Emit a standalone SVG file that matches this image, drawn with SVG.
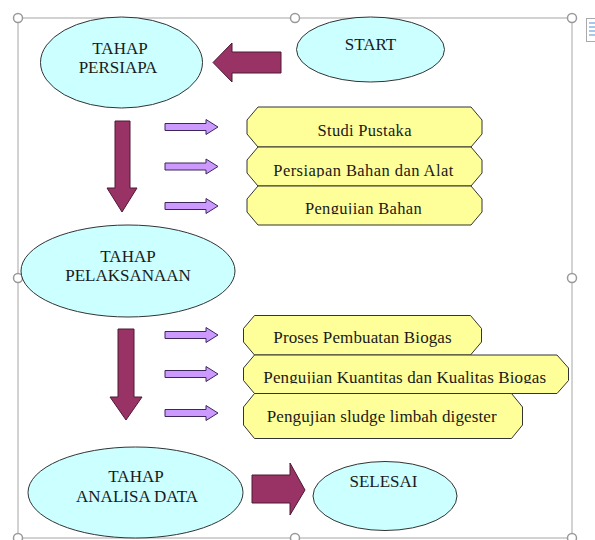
<svg xmlns="http://www.w3.org/2000/svg" width="595" height="540" viewBox="0 0 595 540">
<style>
.ell{fill:#ccffff;stroke:#333;stroke-width:1}
.box{fill:#ffff99;stroke:#333;stroke-width:1}
.big{fill:#993366;stroke:#4d1a33;stroke-width:1}
.sm{fill:#cc99ff;stroke:#3d2659;stroke-width:1}
.t{font-family:"Liberation Serif","Times New Roman",serif;fill:#1a1a1a;text-anchor:middle}
.e{font-size:17px}
.b1{font-size:16.5px}
.b2{font-size:17px}
.frame{fill:none;stroke:#a6a6a6;stroke-width:1}
.h{fill:#fff;stroke:#999;stroke-width:1.5}
</style>
<defs>
<path id="pa" d="M0,-3.5 H41 V-7.5 L53,0 L41,7.5 V3.5 H0 Z"/>
<clipPath id="c1" clipPathUnits="userSpaceOnUse"><rect x="240" y="150" width="250" height="27.5"/></clipPath>
<clipPath id="c2" clipPathUnits="userSpaceOnUse"><rect x="240" y="190" width="250" height="24.3"/></clipPath>
<clipPath id="c3" clipPathUnits="userSpaceOnUse"><rect x="240" y="358" width="335" height="25.6"/></clipPath>
</defs>
<g id="selection-frame">
<rect class="frame" x="18" y="18" width="554" height="520"/>
<circle class="h" cx="18" cy="18" r="4.5"/>
<circle class="h" cx="295" cy="18" r="4.5"/>
<circle class="h" cx="572" cy="18" r="4.5"/>
<circle class="h" cx="18" cy="278" r="4.5"/>
<circle class="h" cx="572" cy="278" r="4.5"/>
<circle class="h" cx="18" cy="538" r="4.5"/>
<circle class="h" cx="295" cy="538" r="4.5"/>
<circle class="h" cx="572" cy="538" r="4.5"/>
<rect x="586.5" y="18.5" width="10" height="23" fill="#fff" stroke="#aaa"/>
<path d="M589,23 H595 M589,27 H595 M589,31 H595 M589,35 H595" stroke="#4a90d9" stroke-width="1"/>
</g>
<g id="connectors">
<path class="big" d="M281,52 V73 H232 V82 L213,62.5 L232,43 V52 Z"/>
<path class="big" d="M115,121 H130 V188 H137 L122,212 L107,188 H115 Z"/>
<path class="big" d="M118,329 H134 V397 H142 L126,420 L110,397 H118 Z"/>
<path class="big" d="M252,475 H290 V463 L305,490 L290,515 V503 H252 Z"/>
<use href="#pa" class="sm" transform="translate(165,127)"/>
<use href="#pa" class="sm" transform="translate(165,166.5)"/>
<use href="#pa" class="sm" transform="translate(165,206)"/>
<use href="#pa" class="sm" transform="translate(165,335)"/>
<use href="#pa" class="sm" transform="translate(165,374)"/>
<use href="#pa" class="sm" transform="translate(165,413)"/>
</g>
<g id="start">
<ellipse class="ell" cx="370.5" cy="49.5" rx="74" ry="32.5"/>
<text class="t e" x="370.5" y="49.5">START</text>
</g>
<g id="tahap-persiapa">
<ellipse class="ell" cx="121.5" cy="62.5" rx="81" ry="45.5"/>
<text class="t e" x="120" y="53.5">TAHAP</text>
<text class="t e" x="118" y="73">PERSIAPA</text>
</g>
<g id="studi-pustaka">
<path class="box" d="M258,107 H471 L482,120 V134 L471,147 H258 L247,134 V120 Z"/>
<text class="t b1" x="364.5" y="136" textLength="94" lengthAdjust="spacing">Studi Pustaka</text>
</g>
<g id="persiapan-bahan">
<path class="box" d="M258,147 H471 L482,160 V173 L471,186 H258 L247,173 V160 Z"/>
<text class="t b1" x="363.3" y="176" textLength="180" lengthAdjust="spacing" clip-path="url(#c1)">Persiapan Bahan dan Alat</text>
</g>
<g id="pengujian-bahan">
<path class="box" d="M258,186 H471 L482,199 V212 L471,225 H258 L247,212 V199 Z"/>
<text class="t b1" x="363.3" y="213.5" textLength="116.7" lengthAdjust="spacing" clip-path="url(#c2)">Pengujian Bahan</text>
</g>
<g id="tahap-pelaksanaan">
<ellipse class="ell" cx="128" cy="271" rx="107" ry="46"/>
<text class="t e" x="128" y="261.7">TAHAP</text>
<text class="t e" x="128" y="280.7">PELAKSANAAN</text>
</g>
<g id="proses-pembuatan">
<path class="box" d="M254.5,315.5 H470.5 L481.5,328.5 V342 L470.5,355 H254.5 L243.5,342 V328.5 Z"/>
<text class="t b2" x="362.5" y="343.3" textLength="178.3" lengthAdjust="spacing">Proses Pembuatan Biogas</text>
</g>
<g id="pengujian-kuantitas">
<path class="box" d="M254.5,355 H557 L568.5,368 V380.5 L557,393.5 H254.5 L243.5,380.5 V368 Z"/>
<text class="t b2" x="404.7" y="382.7" textLength="282.7" lengthAdjust="spacing" clip-path="url(#c3)">Pengujian Kuantitas dan Kualitas Biogas</text>
</g>
<g id="pengujian-sludge">
<path class="box" d="M254.5,393.5 H511.5 L522.5,407 V425 L511.5,438.5 H254.5 L243.5,425 V407 Z"/>
<text class="t b2" x="381.7" y="421.7" textLength="230" lengthAdjust="spacing">Pengujian sludge limbah digester</text>
</g>
<g id="tahap-analisa-data">
<ellipse class="ell" cx="135.5" cy="492.5" rx="107.5" ry="45.5"/>
<text class="t e" x="136" y="481.7">TAHAP</text>
<text class="t e" x="137" y="501.7">ANALISA DATA</text>
</g>
<g id="selesai">
<ellipse class="ell" cx="385" cy="496" rx="72" ry="34.5"/>
<text class="t e" x="383.5" y="487">SELESAI</text>
</g>
</svg>
